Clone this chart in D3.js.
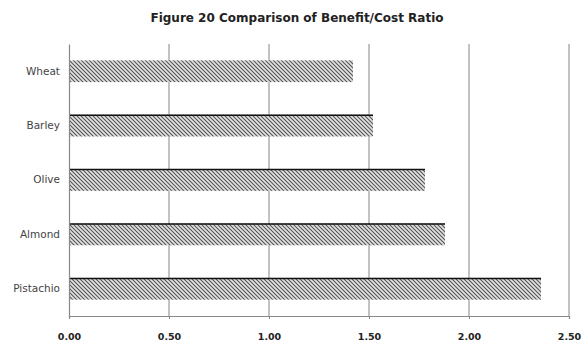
<!DOCTYPE html>
<html>
<head>
<meta charset="utf-8">
<script src="https://cdn.jsdelivr.net/npm/d3@7"></script>
<style>
  body { margin: 0; background: #fff; }
</style>
</head>
<body>
<div id="chart"></div>
<script>
const crops = ["Wheat", "Barley", "Olive", "Almond", "Pistachio"];
const ratios = [1.42, 1.52, 1.78, 1.88, 2.36];
const ticks = [0, 0.5, 1.0, 1.5, 2.0, 2.5];

const margin = {top: 44, right: 12, bottom: 31, left: 69},
    width = 581 - margin.left - margin.right,
    height = 347 - margin.top - margin.bottom;

const svg = d3.select("#chart")
  .append("svg")
    .attr("width", 581)
    .attr("height", 347);

// hatch fill
const pat = svg.append("defs").append("pattern")
    .attr("id", "hatch")
    .attr("patternUnits", "userSpaceOnUse")
    .attr("width", 4)
    .attr("height", 4);
pat.append("rect").attr("width", 4).attr("height", 4).attr("fill", "#e2e2e2");
pat.append("path")
    .attr("d", "M-1,-1 L5,5 M-1,3 L1,5 M3,-1 L5,1")
    .attr("stroke", "#555")
    .attr("stroke-width", 1.1);

const g = svg.append("g")
    .attr("transform", "translate(" + margin.left + "," + margin.top + ")");

const x = d3.scaleLinear()
  .domain([0, 2.5])
  .range([0, width]);

const y = d3.scaleBand()
  .domain(crops)
  .range([0, height])
  .paddingInner(0.6)
  .paddingOuter(0.3);

// title
svg.append("text")
    .attr("x", 297)
    .attr("y", 22)
    .attr("text-anchor", "middle")
    .style("font-family", "DejaVu Sans, Arial")
    .style("font-weight", "bold")
    .style("font-size", "12px")
    .attr("fill", "#222")
    .text("Figure 20 Comparison of Benefit/Cost Ratio");

// gridlines
g.append("g")
  .selectAll("line")
  .data(ticks.slice(1))
  .enter()
  .append("line")
    .attr("x1", d => x(d))
    .attr("x2", d => x(d))
    .attr("y1", 0)
    .attr("y2", height)
    .attr("stroke", "#999")
    .attr("stroke-width", 1.2);

// bars
g.append("g")
  .selectAll("rect")
  .data(crops)
  .enter()
  .append("rect")
    .attr("x", 0)
    .attr("y", d => y(d))
    .attr("width", (d, i) => x(ratios[i]))
    .attr("height", y.bandwidth())
    .attr("fill", "url(#hatch)");

// dark top edge
g.append("g")
  .selectAll("line")
  .data(crops.slice(1))
  .enter()
  .append("line")
    .attr("x1", 0)
    .attr("x2", d => x(ratios[crops.indexOf(d)]))
    .attr("y1", d => y(d) + 0.5)
    .attr("y2", d => y(d) + 0.5)
    .attr("stroke", "#111")
    .attr("stroke-width", 1.5);

// x axis
const xAxis = g.append("g")
    .attr("transform", "translate(0," + height + ")")
    .call(d3.axisBottom(x).tickValues(ticks).tickFormat(d3.format(".2f")).tickSize(3).tickPadding(14));
xAxis.select(".domain").attr("stroke", "#888").attr("stroke-width", 1.2);
xAxis.selectAll(".tick line").attr("stroke", "#888");
xAxis.selectAll("text")
    .style("font-family", "DejaVu Sans, Arial")
    .style("font-weight", "bold")
    .style("font-size", "9.5px")
    .attr("fill", "#222");

// y axis
const yAxis = g.append("g")
    .call(d3.axisLeft(y).tickSize(0).tickPadding(9));
yAxis.select(".domain").attr("stroke", "#888").attr("stroke-width", 1.2);
yAxis.selectAll("text")
    .style("font-family", "DejaVu Sans, Arial")
    .style("font-size", "10.5px")
    .attr("fill", "#444");
</script>
</body>
</html>
